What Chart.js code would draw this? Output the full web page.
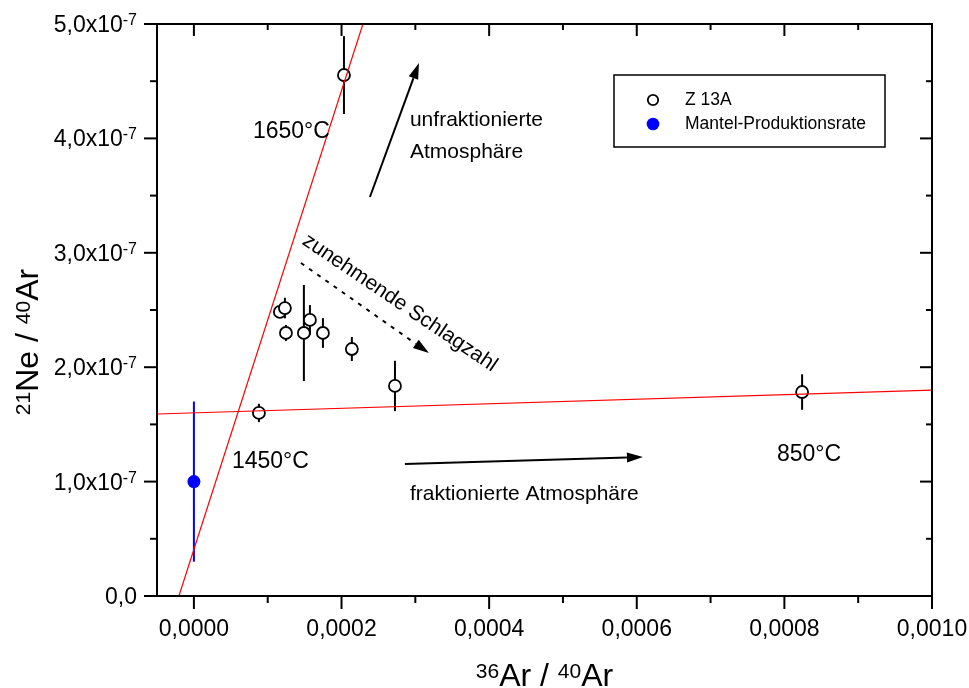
<!DOCTYPE html>
<html>
<head>
<meta charset="utf-8">
<script src="https://cdn.jsdelivr.net/npm/chart.js@4"></script>
<style>
  html, body { margin: 0; padding: 0; background: #fff; }
</style>
</head>
<body>
<canvas id="chart" width="969" height="688"></canvas>
<script>
// tick labels
const xTicks = [0, 0.0002, 0.0004, 0.0006, 0.0008, 0.0010];
const yTicks = [0, 1e-7, 2e-7, 3e-7, 4e-7, 5e-7];

// Z 13A step heating points
const z13aX = [0.0002033, 0.0000881, 0.0001165, 0.0001233, 0.0001247, 0.000149, 0.0001572, 0.0001748, 0.000214, 0.0002724, 0.000824];
const z13aY = [4.554e-7, 1.600e-7, 2.483e-7, 2.517e-7, 2.299e-7, 2.299e-7, 2.413e-7, 2.299e-7, 2.159e-7, 1.836e-7, 1.783e-7];
const z13aErr = [0.34e-7, 0.08e-7, 0.05e-7, 0.09e-7, 0.07e-7, 0.42e-7, 0.13e-7, 0.13e-7, 0.105e-7, 0.22e-7, 0.155e-7];

// mantle production rate
const mantelX = [0];
const mantelY = [1.0e-7];
const mantelErr = [0.70e-7];

// red reference lines
const steepX = [-0.0000203, 0.000229];
const steepY = [0, 5e-7];
const flatX = [-0.00005, 0.0010];
const flatY = [1.591e-7, 1.80e-7];

// text notes and arrows (data coordinates)
const notes = [
  { text: '1650°C', x: 0.0000799, y: 4.056e-7, size: 23 },
  { text: 'unfraktionierte', x: 0.0002927, y: 4.161e-7, size: 21 },
  { text: 'Atmosphäre', x: 0.0002927, y: 3.881e-7, size: 21 },
  { text: '1450°C', x: 0.0000515, y: 1.171e-7, size: 23 },
  { text: '850°C', x: 0.00079, y: 1.237e-7, size: 23 },
  { text: 'fraktionierte Atmosphäre', x: 0.0002927, y: 0.892e-7, size: 21 },
  { text: 'zunehmende Schlagzahl', x: 0.000279, y: 2.561e-7, size: 21, angle: 34, center: true }
];
const arrows = [
  { from: [0.0002385, 3.488e-7], to: [0.0003049, 4.659e-7] },
  { from: [0.0002859, 1.154e-7], to: [0.0006084, 1.215e-7] },
  { from: [0.000145, 2.911e-7], to: [0.0003184, 2.124e-7], dashed: true }
];

const FONT = '"Liberation Sans", Arial, sans-serif';
const toPts = (xs, ys) => xs.map((v, i) => ({ x: v, y: ys[i] }));

function line(ctx, x1, y1, x2, y2) {
  ctx.beginPath(); ctx.moveTo(x1, y1); ctx.lineTo(x2, y2); ctx.stroke();
}

function drawRuns(ctx, runs, cx, base, mainSize, supSize, rise) {
  let w = 0;
  runs.forEach(r => {
    ctx.font = (r.sup ? supSize : mainSize) + 'px ' + FONT;
    r.w = ctx.measureText(r.t).width;
    w += r.w;
  });
  let px = cx - w / 2;
  ctx.textAlign = 'left';
  ctx.textBaseline = 'alphabetic';
  runs.forEach(r => {
    ctx.font = (r.sup ? supSize : mainSize) + 'px ' + FONT;
    ctx.fillText(r.t, px, r.sup ? base - rise : base);
    px += r.w;
  });
}

const decor = {
  id: 'decor',
  beforeDatasetsDraw(chart) {
    const { ctx, chartArea: a, scales: { x, y } } = chart;
    ctx.save();
    ctx.beginPath(); ctx.rect(a.left, a.top, a.right - a.left, a.bottom - a.top); ctx.clip();
    ctx.lineWidth = 2;
    ctx.strokeStyle = '#000';
    z13aX.forEach((v, i) => {
      const px = x.getPixelForValue(v);
      line(ctx, px, y.getPixelForValue(z13aY[i] - z13aErr[i]), px, y.getPixelForValue(z13aY[i] + z13aErr[i]));
    });
    ctx.strokeStyle = '#0000ff';
    mantelX.forEach((v, i) => {
      const px = x.getPixelForValue(v);
      line(ctx, px, y.getPixelForValue(mantelY[i] - mantelErr[i]), px, y.getPixelForValue(mantelY[i] + mantelErr[i]));
    });
    ctx.restore();
  },
  afterDraw(chart) {
    const { ctx, chartArea: a, scales: { x, y } } = chart;
    ctx.save();
    ctx.fillStyle = '#000';
    ctx.strokeStyle = '#000';

    // frame
    ctx.lineWidth = 2;
    ctx.strokeRect(a.left, a.top, a.right - a.left, a.bottom - a.top);

    // ticks
    const mids = t => t.slice(1).map((v, i) => (v + t[i]) / 2);
    xTicks.forEach(v => {
      const px = x.getPixelForValue(v);
      line(ctx, px, a.bottom, px, a.bottom + 13);
      line(ctx, px, a.top, px, a.top + 12);
    });
    mids(xTicks).forEach(v => {
      const px = x.getPixelForValue(v);
      line(ctx, px, a.bottom, px, a.bottom + 7);
      line(ctx, px, a.top, px, a.top + 6);
    });
    yTicks.forEach(v => {
      const py = y.getPixelForValue(v);
      line(ctx, a.left - 13, py, a.left, py);
      line(ctx, a.right - 12, py, a.right, py);
    });
    mids(yTicks).forEach(v => {
      const py = y.getPixelForValue(v);
      line(ctx, a.left - 7, py, a.left, py);
      line(ctx, a.right - 6, py, a.right, py);
    });

    // x tick labels
    ctx.font = '23px ' + FONT;
    ctx.textAlign = 'center';
    ctx.textBaseline = 'alphabetic';
    xTicks.forEach(v => {
      ctx.fillText(v.toFixed(4).replace('.', ','), x.getPixelForValue(v), a.bottom + 40);
    });

    // y tick labels with superscript exponent
    yTicks.forEach(v => {
      const py = y.getPixelForValue(v);
      const main = v === 0 ? '0,0' : (v / 1e-7).toFixed(1).replace('.', ',') + 'x10';
      const sup = v === 0 ? '' : '-7';
      ctx.font = '23px ' + FONT;
      const mw = ctx.measureText(main).width;
      ctx.font = '16px ' + FONT;
      const sw = ctx.measureText(sup).width;
      const right = a.left - 20;
      ctx.textAlign = 'left';
      ctx.font = '23px ' + FONT;
      ctx.fillText(main, right - sw - mw, py + 8);
      ctx.font = '16px ' + FONT;
      ctx.fillText(sup, right - sw, py + 1);
    });

    // axis titles
    drawRuns(ctx, [{ t: '36', sup: true }, { t: 'Ar / ' }, { t: '40', sup: true }, { t: 'Ar' }],
      (a.left + a.right) / 2, 686, 32, 21, 8);
    ctx.save();
    ctx.translate(38, 342);
    ctx.rotate(-Math.PI / 2);
    drawRuns(ctx, [{ t: '21', sup: true }, { t: 'Ne / ' }, { t: '40', sup: true }, { t: 'Ar' }],
      0, 0, 32, 21, 8);
    ctx.restore();

    // notes
    notes.forEach(n => {
      const px = x.getPixelForValue(n.x), py = y.getPixelForValue(n.y);
      ctx.font = n.size + 'px ' + FONT;
      ctx.textBaseline = 'middle';
      ctx.save();
      ctx.translate(px, py);
      if (n.angle) ctx.rotate(n.angle * Math.PI / 180);
      ctx.textAlign = n.center ? 'center' : 'left';
      ctx.fillText(n.text, 0, 0);
      ctx.restore();
    });

    // arrows
    arrows.forEach(ar => {
      const x1 = x.getPixelForValue(ar.from[0]), y1 = y.getPixelForValue(ar.from[1]);
      const x2 = x.getPixelForValue(ar.to[0]), y2 = y.getPixelForValue(ar.to[1]);
      const ang = Math.atan2(y2 - y1, x2 - x1);
      const len = 16, half = 5;
      const bx = x2 - len * Math.cos(ang), by = y2 - len * Math.sin(ang);
      ctx.lineWidth = 2;
      ctx.setLineDash(ar.dashed ? [4, 6] : []);
      line(ctx, x1, y1, bx, by);
      ctx.setLineDash([]);
      ctx.beginPath();
      ctx.moveTo(x2, y2);
      ctx.lineTo(bx + half * Math.sin(ang), by - half * Math.cos(ang));
      ctx.lineTo(bx - half * Math.sin(ang), by + half * Math.cos(ang));
      ctx.closePath();
      ctx.fill();
    });

    // legend box
    const lx = a.right - 318, ly = a.top + 51;
    ctx.lineWidth = 1.5;
    ctx.strokeRect(lx, ly, 271, 72);
    const items = chart.data.datasets.slice(0, 2);
    items.forEach((ds, i) => {
      const cy = ly + 25 + i * 24;
      ctx.beginPath();
      ctx.arc(lx + 39, cy, i === 0 ? 5.2 : 6.3, 0, Math.PI * 2);
      ctx.fillStyle = ds.backgroundColor;
      ctx.fill();
      if (i === 0) { ctx.lineWidth = 1.8; ctx.strokeStyle = '#000'; ctx.stroke(); }
      ctx.fillStyle = '#000';
      ctx.font = '17.5px ' + FONT;
      ctx.textAlign = 'left';
      ctx.textBaseline = 'middle';
      ctx.fillText(ds.label, lx + 71, cy);
    });
    ctx.restore();
  }
};

new Chart(document.getElementById('chart'), {
  type: 'scatter',
  data: {
    datasets: [
      {
        label: 'Z 13A',
        data: toPts(z13aX, z13aY),
        backgroundColor: '#ffffff',
        borderColor: '#000000',
        borderWidth: 1.8,
        pointRadius: 6,
        order: 2
      },
      {
        label: 'Mantel-Produktionsrate',
        data: toPts(mantelX, mantelY),
        backgroundColor: '#0000ff',
        borderColor: '#0000ff',
        borderWidth: 0,
        pointRadius: 6.5,
        order: 2
      },
      {
        label: 'steep',
        data: toPts(steepX, steepY),
        showLine: true,
        borderColor: '#ff0000',
        borderWidth: 1.2,
        pointRadius: 0,
        order: 0
      },
      {
        label: 'flat',
        data: toPts(flatX, flatY),
        showLine: true,
        borderColor: '#ff0000',
        borderWidth: 1.2,
        pointRadius: 0,
        order: 0
      }
    ]
  },
  options: {
    responsive: false,
    animation: false,
    layout: { padding: { top: 24, right: 37, left: 0, bottom: 0 } },
    plugins: { legend: { display: false }, tooltip: { enabled: false } },
    scales: {
      x: {
        type: 'linear',
        min: -0.00005,
        max: 0.0010,
        grid: { display: false },
        border: { display: false },
        ticks: { display: false },
        afterFit: s => { s.height = 92; }
      },
      y: {
        type: 'linear',
        min: 0,
        max: 5e-7,
        grid: { display: false },
        border: { display: false },
        ticks: { display: false },
        afterFit: s => { s.width = 157; }
      }
    }
  },
  plugins: [decor]
});
</script>
</body>
</html>
